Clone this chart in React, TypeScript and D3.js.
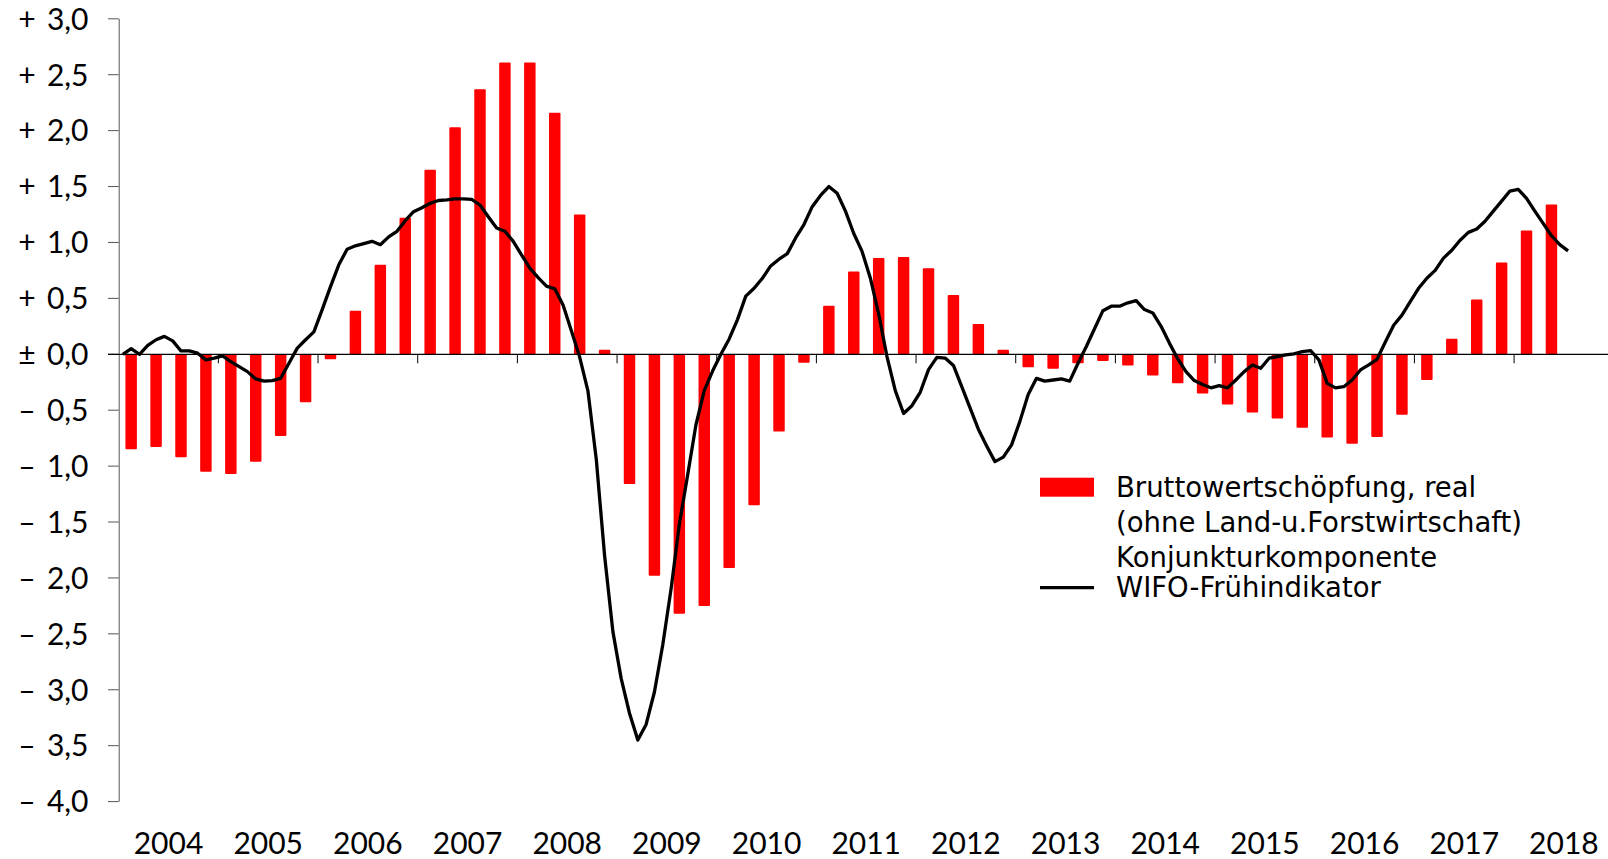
import React from "react";
import * as d3 from "d3";

// Konjunkturkomponente, % (quarterly, 2004 Q1 – 2018 Q2)
const years = [2004, 2005, 2006, 2007, 2008, 2009, 2010, 2011, 2012, 2013, 2014, 2015, 2016, 2017, 2018];

const bwsValues = [
  -0.85, -0.83, -0.92, -1.05,
  -1.07, -0.96, -0.73, -0.43,
  -0.045, 0.39, 0.8, 1.22,
  1.65, 2.03, 2.37, 2.61,
  2.61, 2.16, 1.25, 0.04,
  -1.16, -1.98, -2.32, -2.25,
  -1.91, -1.35, -0.69, -0.075,
  0.435, 0.74, 0.86, 0.87,
  0.77, 0.53, 0.27, 0.04,
  -0.115, -0.13, -0.08, -0.06,
  -0.1, -0.19, -0.26, -0.35,
  -0.45, -0.52, -0.575, -0.656,
  -0.745, -0.8, -0.74, -0.54,
  -0.23, 0.14, 0.49, 0.82,
  1.106, 1.34,
];

// WIFO-Frühindikator, monthly Jan 2004 – Jul 2018
const wifoValues = [
  0.0, 0.05, 0.0, 0.08, 0.13, 0.16, 0.12, 0.03, 0.03, 0.01, -0.05, -0.035,
  -0.015, -0.065, -0.11, -0.155, -0.22, -0.24, -0.235, -0.215, -0.08, 0.055, 0.13, 0.2,
  0.4, 0.605, 0.8, 0.94, 0.97, 0.99, 1.01, 0.98, 1.05, 1.1, 1.195, 1.275,
  1.31, 1.35, 1.375, 1.38, 1.39, 1.39, 1.385, 1.335, 1.23, 1.13, 1.1, 1.01,
  0.89, 0.77, 0.685, 0.61, 0.585, 0.44, 0.21, -0.025, -0.33, -0.94, -1.8, -2.48,
  -2.9, -3.21, -3.45, -3.31, -3.02, -2.6, -2.1, -1.52, -1.08, -0.63, -0.325, -0.15,
  0.0, 0.137, 0.31, 0.52, 0.59, 0.68, 0.79, 0.85, 0.9, 1.04, 1.16, 1.32,
  1.42, 1.5, 1.44, 1.28, 1.08, 0.92, 0.68, 0.36, -0.02, -0.325, -0.53, -0.46,
  -0.34, -0.137, -0.027, -0.034, -0.1, -0.29, -0.48, -0.67, -0.82, -0.96, -0.92, -0.81,
  -0.6, -0.36, -0.215, -0.24, -0.23, -0.22, -0.24, -0.08, 0.07, 0.23, 0.39, 0.43,
  0.43, 0.46, 0.48, 0.4, 0.37, 0.25, 0.1, -0.04, -0.155, -0.235, -0.27, -0.3,
  -0.28, -0.3, -0.23, -0.155, -0.095, -0.125, -0.035, -0.02, -0.006, 0.003, 0.024, 0.033,
  -0.05, -0.26, -0.3, -0.29, -0.23, -0.14, -0.095, -0.045, 0.11, 0.26, 0.35, 0.47,
  0.59, 0.68, 0.75, 0.86, 0.93, 1.02, 1.09, 1.12, 1.19, 1.28, 1.37, 1.46,
  1.475, 1.395, 1.28, 1.17, 1.06, 0.98, 0.925,
];

const yTicks = [3, 2.5, 2, 1.5, 1, 0.5, 0, -0.5, -1, -1.5, -2, -2.5, -3, -3.5, -4];
const yTickLabels = [
  "+ 3,0", "+ 2,5", "+ 2,0", "+ 1,5", "+ 1,0", "+ 0,5", "± 0,0",
  "– 0,5", "– 1,0", "– 1,5", "– 2,0", "– 2,5", "– 3,0", "– 3,5", "– 4,0",
];

const legendBars = ["Bruttowertschöpfung, real", "(ohne Land-u.Forstwirtschaft)"];
const legendLine = ["Konjunkturkomponente", "WIFO-Frühindikator"];

const W = 1608;
const H = 859;
const FONT = "Lato, 'Noto Sans', sans-serif";
const LEGEND_FONT = "'DejaVu Sans', sans-serif";

export default function App() {
  const x0 = 118.7;
  const yearW = 99.67;

  const xMonth = d3
    .scaleLinear()
    .domain([0, years.length * 12])
    .range([x0, x0 + years.length * yearW]);

  const quarters = years.flatMap((yr) => [1, 2, 3, 4].map((q) => `${yr}Q${q}`));
  const xQuarter = d3
    .scaleBand<string>()
    .domain(quarters)
    .range([x0, x0 + years.length * yearW])
    .paddingInner(0.54)
    .paddingOuter(0.27);

  const y = d3.scaleLinear().domain([-4, 3]).range([801.6, 18.8]);

  const line = d3
    .line<number>()
    .x((_, i) => xMonth(i + 0.5))
    .y((d) => y(d));

  return (
    <div style={{ position: "fixed", left: 0, top: 0 }}>
      <svg width={W} height={H} style={{ display: "block", background: "#fff" }}>
        {/* bars */}
        <g>
          {bwsValues.map((v, i) => (
            <rect
              key={i}
              x={xQuarter(quarters[i])}
              y={y(Math.max(0, v))}
              width={xQuarter.bandwidth()}
              height={Math.abs(y(v) - y(0))}
              fill="#ff0000"
              rx={1}
            />
          ))}
        </g>

        {/* y axis */}
        <line x1={x0 + 0.5} x2={x0 + 0.5} y1={y(3)} y2={y(-4)} stroke="#555" strokeWidth={1} />
        {yTicks.map((t, i) => {
          const [sign, num] = yTickLabels[i].split(" ");
          return (
            <g key={t} fontFamily={FONT} fontSize={30} fill="#000">
              <line x1={108} x2={x0} y1={y(t)} y2={y(t)} stroke="#555" strokeWidth={1} />
              <text x={27} y={y(t)} dy="0.36em" textAnchor="middle">
                {sign}
              </text>
              <text x={88.5} y={y(t)} dy="0.36em" textAnchor="end">
                {num}
              </text>
            </g>
          );
        })}

        {/* zero line and year ticks */}
        <line x1={108} x2={W} y1={y(0)} y2={y(0)} stroke="#000" strokeWidth={1.2} />
        {years.slice(1).map((yr, i) => (
          <line
            key={yr}
            x1={xMonth((i + 1) * 12)}
            x2={xMonth((i + 1) * 12)}
            y1={y(0)}
            y2={y(0) + 9}
            stroke="#000"
            strokeWidth={1}
          />
        ))}
        {years.map((yr, i) => (
          <text
            key={yr}
            x={xMonth(i * 12 + 6)}
            y={854}
            textAnchor="middle"
            fontFamily={FONT}
            fontSize={30}
            fill="#000"
          >
            {yr}
          </text>
        ))}

        {/* line */}
        <path
          d={line(wifoValues) || ""}
          fill="none"
          stroke="#000"
          strokeWidth={3.3}
          strokeLinejoin="round"
        />

        {/* legend */}
        <g fontFamily={LEGEND_FONT} fontSize={27.5} fill="#000">
          <rect x={1040} y={477.7} width={54} height={19} fill="#ff0000" />
          <text x={1116} y={496.7}>{legendBars[0]}</text>
          <text x={1116} y={531.7}>{legendBars[1]}</text>
          <text x={1116} y={567}>{legendLine[0]}</text>
          <text x={1116} y={597}>{legendLine[1]}</text>
          <line x1={1040} x2={1094} y1={587.7} y2={587.7} stroke="#000" strokeWidth={3.3} />
        </g>
      </svg>
    </div>
  );
}
